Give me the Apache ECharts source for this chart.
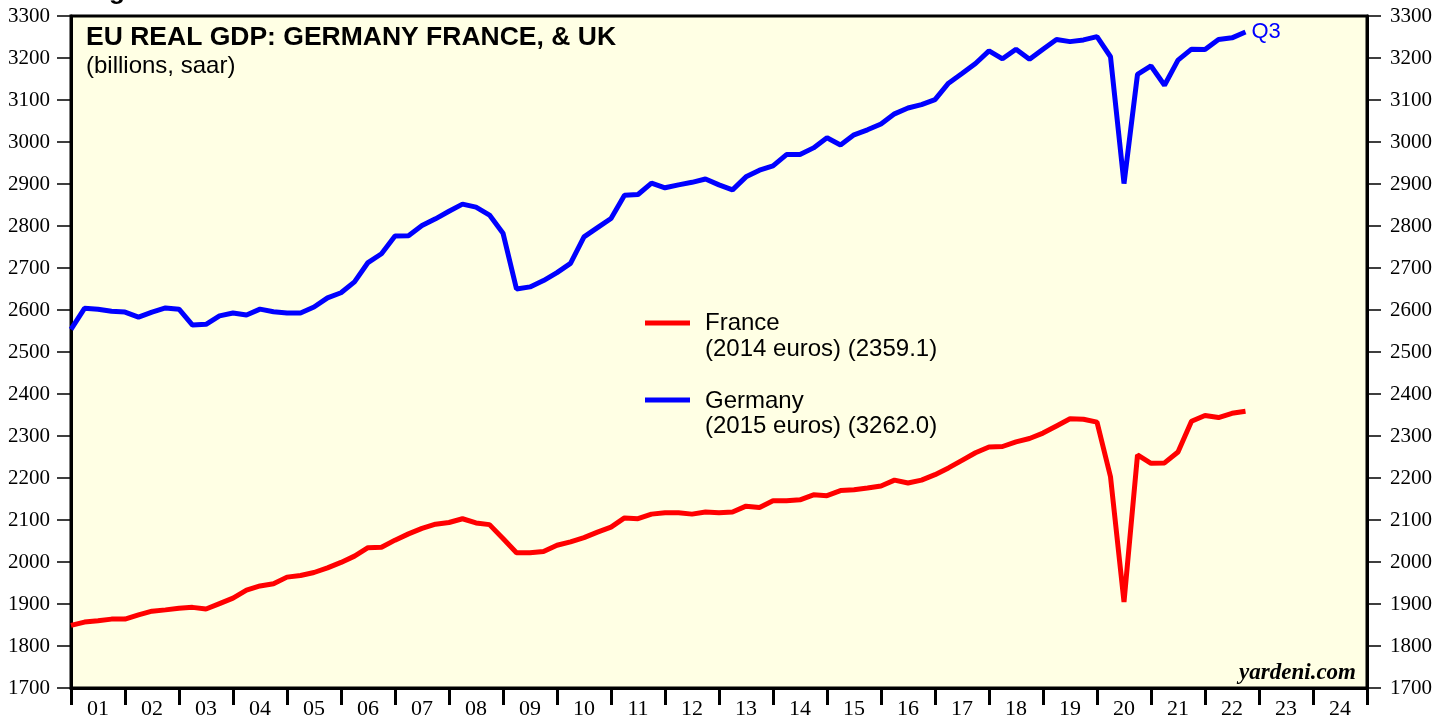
<!DOCTYPE html>
<html>
<head>
<meta charset="utf-8">
<title>EU Real GDP: Germany, France</title>
<script src="https://cdn.jsdelivr.net/npm/echarts@6/dist/echarts.min.js"></script>
<style>
  html, body { margin: 0; padding: 0; background: #fff; }
  #chart { width: 1448px; height: 715px; }
</style>
</head>
<body>
<div id="chart"></div>
<script>
// quarterly data, 2000 Q4 .. 2022 Q3 (plotted at end of quarter)
var firstYear = 2000
var firstQuarter = 4
var yearLabels = ['01', '02', '03', '04', '05', '06', '07', '08', '09', '10', '11', '12',
  '13', '14', '15', '16', '17', '18', '19', '20', '21', '22', '23', '24']
var yTicks = { min: 1700, max: 3300, step: 100 }

var seriesNames = ['France', 'Germany']
var seriesNotes = ['(2014 euros) (2359.1)', '(2015 euros) (3262.0)']

var france = [
  1849, 1857, 1860, 1864, 1864, 1874, 1883, 1886, 1890, 1892,
  1888, 1901, 1914, 1933, 1943, 1948, 1964, 1968, 1975, 1986,
  1999, 2014, 2034, 2035, 2052, 2067, 2080, 2090, 2094, 2103,
  2093, 2089, 2056, 2022, 2022, 2025, 2040, 2048, 2058, 2071,
  2083, 2105, 2103, 2114, 2117, 2117, 2114, 2119, 2117, 2119,
  2133, 2130, 2146, 2146, 2148, 2160, 2158, 2170, 2172, 2176,
  2181, 2195, 2188, 2195, 2208, 2224, 2242, 2260, 2274, 2275,
  2286, 2294, 2307, 2324, 2341, 2340, 2333, 2203, 1905, 2255,
  2235, 2236, 2262, 2335, 2349, 2344, 2354, 2359.1
]

var germany = [
  2554, 2604, 2602, 2597, 2595, 2583, 2595, 2605, 2602, 2564,
  2566, 2586, 2593, 2588, 2602, 2596, 2593, 2593, 2607, 2629,
  2641, 2667, 2713, 2734, 2776, 2777, 2801, 2817, 2835, 2852,
  2845, 2826, 2783, 2650, 2655, 2670, 2689, 2711, 2774, 2796,
  2818, 2873, 2875, 2902, 2891, 2898, 2904, 2912, 2898, 2886,
  2917, 2933, 2943, 2970, 2970, 2986, 3010, 2993, 3017, 3029,
  3043, 3067, 3081, 3089, 3101, 3140, 3163, 3187, 3217, 3198,
  3221, 3197, 3221, 3244, 3239, 3243, 3251, 3203, 2901, 3161,
  3181, 3135, 3195, 3221, 3220, 3244, 3248, 3262.0
]

// x position of each quarter = end of that quarter, in years
function toPoints(values) {
  var pts = []
  for (var i = 0; i < values.length; i++) {
    var q = firstQuarter + i
    var yr = firstYear + Math.floor((q - 1) / 4)
    var qq = (q - 1) % 4 + 1
    pts.push([yr + qq / 4, values[i]])
  }
  return pts
}

var serif = 'Liberation Serif'
var sans = 'Liberation Sans'

var myChart = echarts.init(document.getElementById('chart'))

function yAxisOpt(pos, margin) {
  return {
    type: 'value',
    position: pos,
    min: yTicks.min,
    max: yTicks.max,
    interval: yTicks.step,
    axisLine: { show: true, lineStyle: { color: '#000', width: 3 } },
    axisTick: { show: true, length: 14, lineStyle: { color: '#000', width: 1.5 } },
    axisLabel: {
      margin: margin, color: '#000', fontFamily: serif, fontSize: 21,
      formatter: function (v) { return String(v) } // no thousands separator
    },
    splitLine: { show: false }
  }
}

var option = {
  animation: false,
  backgroundColor: '#fff',
  grid: {
    left: 71, right: 81, top: 16, bottom: 27,
    outerBoundsMode: 'none', // keep the plot where it is, labels may run off the page
    show: true,
    backgroundColor: '#ffffe4',
    borderColor: '#000',
    borderWidth: 3
  },
  xAxis: [
    {
      // year ticks and labels
      type: 'category',
      position: 'bottom',
      data: yearLabels,
      boundaryGap: true,
      axisLine: { lineStyle: { color: '#000', width: 3 } },
      axisTick: { show: true, interval: 0, length: 17, lineStyle: { color: '#000', width: 3 } },
      axisLabel: { interval: 0, margin: 10, color: '#000', fontFamily: serif, fontSize: 22 },
      splitLine: { show: false }
    },
    {
      // time scale for the data
      type: 'value',
      min: 2001,
      max: 2025,
      show: false
    }
  ],
  yAxis: [yAxisOpt('left', 21), yAxisOpt('right', 23)],
  series: [
    {
      name: seriesNames[0],
      type: 'line',
      xAxisIndex: 1,
      yAxisIndex: 0,
      data: toPoints(france),
      showSymbol: false,
      lineStyle: { color: '#ff0000', width: 5 },
      itemStyle: { color: '#ff0000' }
    },
    {
      name: seriesNames[1],
      type: 'line',
      xAxisIndex: 1,
      yAxisIndex: 0,
      data: toPoints(germany),
      showSymbol: false,
      lineStyle: { color: '#0000ff', width: 5 },
      itemStyle: { color: '#0000ff' },
      endLabel: {
        show: true,
        formatter: 'Q3',
        color: '#0000ff',
        fontFamily: sans,
        fontSize: 22,
        distance: 6
      }
    }
  ],
  graphic: [
    { type: 'text', x: 86, y: -21, style: { text: 'Figure 3', fill: '#000', font: 'bold 26px ' + sans } },
    { type: 'text', x: 86, y: 38, style: { text: 'EU REAL GDP: GERMANY FRANCE, & UK', fill: '#000', font: 'bold 26.5px ' + sans, verticalAlign: 'middle' } },
    { type: 'text', x: 86, y: 66, style: { text: '(billions, saar)', fill: '#000', font: '24px ' + sans, verticalAlign: 'middle' } },
    // legend
    { type: 'line', shape: { x1: 645, y1: 323, x2: 690, y2: 323 }, style: { stroke: '#ff0000', lineWidth: 5 } },
    { type: 'text', x: 705, y: 323, style: { text: seriesNames[0], fill: '#000', font: '24px ' + sans, verticalAlign: 'middle' } },
    { type: 'text', x: 705, y: 349, style: { text: seriesNotes[0], fill: '#000', font: '24px ' + sans, verticalAlign: 'middle' } },
    { type: 'line', shape: { x1: 645, y1: 400, x2: 690, y2: 400 }, style: { stroke: '#0000ff', lineWidth: 5 } },
    { type: 'text', x: 705, y: 401, style: { text: seriesNames[1], fill: '#000', font: '24px ' + sans, verticalAlign: 'middle' } },
    { type: 'text', x: 705, y: 426, style: { text: seriesNotes[1], fill: '#000', font: '24px ' + sans, verticalAlign: 'middle' } },
    { type: 'text', x: 1356, y: 673, style: { text: 'yardeni.com', fill: '#000', font: 'italic bold 23px ' + serif, align: 'right', verticalAlign: 'middle' } }
  ]
}

myChart.setOption(option)
</script>
</body>
</html>
